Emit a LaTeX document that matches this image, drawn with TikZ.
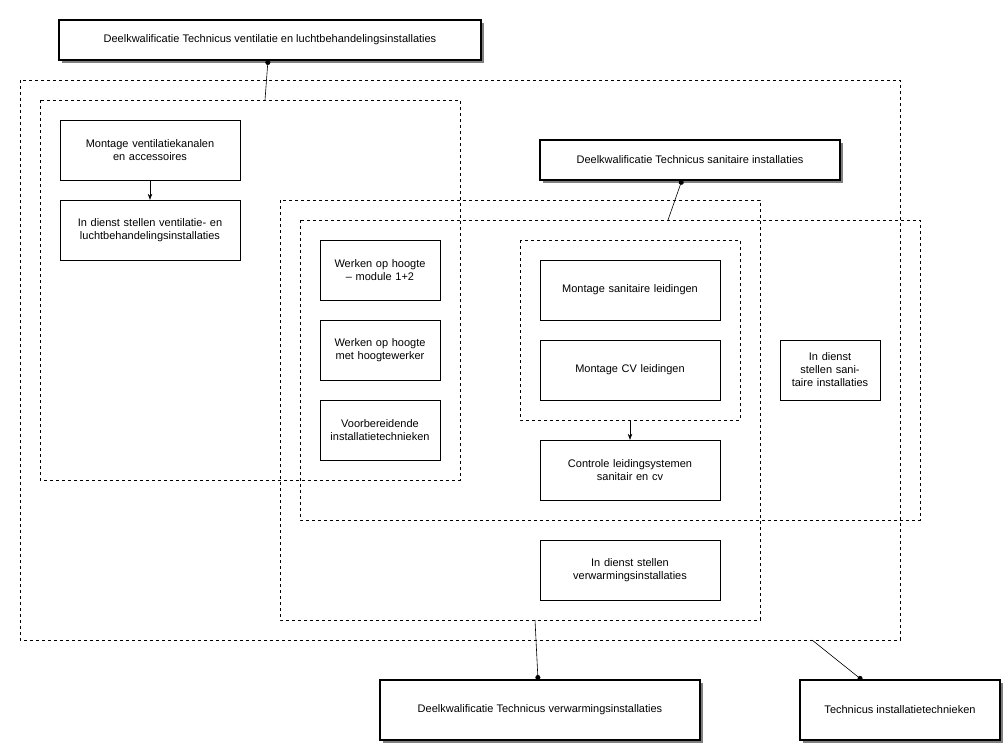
\documentclass[tikz,border=0pt]{standalone}
\usepackage{fontspec}
\setmainfont{Liberation Sans}
\usetikzlibrary{shadows,arrows.meta}
\begin{document}
\begin{tikzpicture}[x=1pt,y=-1pt,
  box/.style={draw,fill=white,align=center,inner sep=2pt,font=\fontsize{11}{13}\selectfont},
  title/.style={box,line width=1.5pt,drop shadow={shadow xshift=3pt,shadow yshift=-3pt,fill=black!50,opacity=1}},
  grp/.style={draw,dashed,line width=0.6pt},
  link/.style={line width=0.6pt,{Circle[length=5pt]}-},
  arr/.style={-{Stealth[length=6pt]},line width=0.6pt}]
\useasboundingbox (0,0) rectangle (1008,749);
\draw[grp] (20,80) rectangle (900,640);
\draw[grp] (40,100) rectangle (460,480);
\draw[grp] (280,200) rectangle (760,620);
\draw[grp] (300,220) rectangle (920,520);
\draw[grp] (520,240) rectangle (740,420);
\coordinate (g1) at (265,100);
\coordinate (g2) at (668,220);
\coordinate (g3) at (535,620);
\coordinate (g4) at (812,640);
\coordinate (g5) at (630,420);
\node[title,minimum width=422,minimum height=40] (t1) at (270,40) {Deelkwalificatie Technicus ventilatie en luchtbehandelingsinstallaties};
\node[title,minimum width=300,minimum height=40] (t2) at (690,160) {Deelkwalificatie Technicus sanitaire installaties};
\node[title,minimum width=320,minimum height=60] (t3) at (540,710) {Deelkwalificatie Technicus verwarmingsinstallaties};
\node[title,minimum width=200,minimum height=60] (t4) at (900,710) {Technicus installatietechnieken};
\node[box,minimum width=180,minimum height=60,text width=174] (a1) at (150,150) {Montage ventilatiekanalen\\en accessoires};
\node[box,minimum width=180,minimum height=60,text width=174] (a2) at (150,230) {In dienst stellen ventilatie- en luchtbehandelingsinstallaties};
\node[box,minimum width=120,minimum height=60,text width=116] (b1) at (380,270) {Werken op hoogte – module 1+2};
\node[box,minimum width=120,minimum height=60,text width=116] (b2) at (380,350) {Werken op hoogte met hoogtewerker};
\node[box,minimum width=120,minimum height=60,text width=116] (b3) at (380,430) {Voorbereidende installatietechnieken};
\node[box,minimum width=180,minimum height=60,text width=174] (c1) at (630,290) {Montage sanitaire leidingen};
\node[box,minimum width=180,minimum height=60,text width=174] (c2) at (630,370) {Montage CV leidingen};
\node[box,minimum width=180,minimum height=60,text width=174] (c3) at (630,470) {Controle leidingsystemen\\sanitair en cv};
\node[box,minimum width=180,minimum height=60,text width=174] (c4) at (630,570) {In dienst stellen\\verwarmingsinstallaties};
\node[box,minimum width=100,minimum height=60,text width=96] (d1) at (830,370) {In dienst\\stellen sanitaire installaties};
\draw[arr] (a1) -- (a2);
\draw[arr] (g5) -- (c3);
\draw[link] (268,60) -- (g1);
\draw[link] (682,180) -- (g2);
\draw[link] (538,680) -- (g3);
\draw[link] (862,680) -- (g4);
\end{tikzpicture}
\end{document}
